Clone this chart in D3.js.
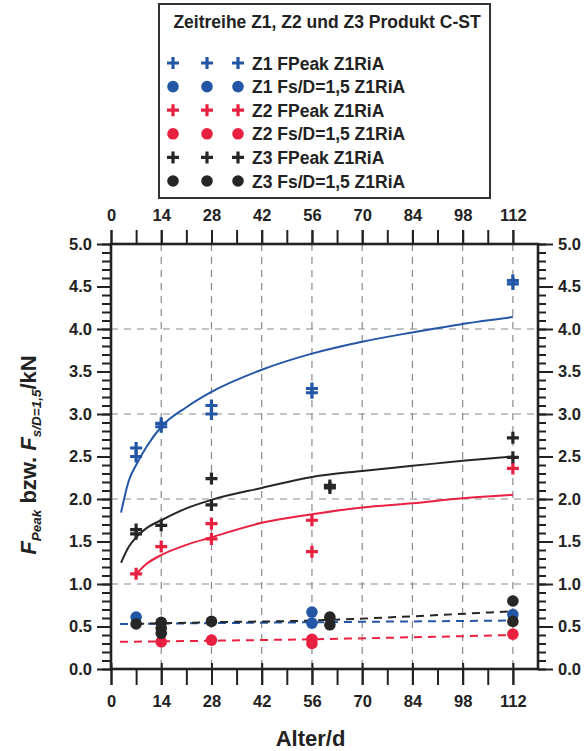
<!DOCTYPE html>
<html>
<head>
<meta charset="utf-8">
<script src="https://cdn.jsdelivr.net/npm/d3@7"></script>
<style>
	body { margin: 0; background: #fff; }
	text { font-family: "Liberation Sans", Arial, sans-serif; font-weight: bold; fill: #222; }
</style>
</head>
<body>
<svg id="chart" width="587" height="751"></svg>
<script>
var margin = {top: 244, right: 49, bottom: 82, left: 111};

var xTicks = [0, 14, 28, 42, 56, 70, 84, 98, 112];
var yTicks = [0, 0.5, 1, 1.5, 2, 2.5, 3, 3.5, 4, 4.5, 5];

// measured points
var z1PeakDays = [7, 7, 14, 14, 28, 28, 56, 56, 112, 112];
var z1Peak = [2.60, 2.50, 2.89, 2.85, 3.10, 3.00, 3.30, 3.25, 4.57, 4.53];
var z1FsDays = [7, 56, 56, 112];
var z1Fs = [0.61, 0.67, 0.54, 0.64];
var z2PeakDays = [7, 14, 28, 28, 56, 56, 112];
var z2Peak = [1.12, 1.44, 1.71, 1.53, 1.75, 1.38, 2.36];
var z2FsDays = [14, 28, 56, 56, 112];
var z2Fs = [0.32, 0.34, 0.35, 0.30, 0.41];
var z3PeakDays = [7, 7, 14, 28, 28, 61, 61, 112, 112];
var z3Peak = [1.64, 1.59, 1.69, 2.24, 1.93, 2.16, 2.13, 2.72, 2.49];
var z3FsDays = [7, 14, 14, 14, 28, 61, 61, 112, 112];
var z3Fs = [0.53, 0.55, 0.48, 0.42, 0.56, 0.61, 0.52, 0.80, 0.56];

// trend lines
var z1FitDays = [2.8, 5, 7, 10, 14, 21, 28, 42, 56, 70, 84, 98, 112];
var z1Fit = [1.84, 2.22, 2.40, 2.62, 2.85, 3.08, 3.26, 3.52, 3.71, 3.85, 3.96, 4.06, 4.14];
var z2FitDays = [6.7, 10, 14, 21, 28, 42, 56, 70, 84, 98, 112];
var z2Fit = [1.10, 1.24, 1.34, 1.46, 1.55, 1.72, 1.82, 1.90, 1.95, 2.01, 2.05];
var z3FitDays = [2.8, 5, 7, 10, 14, 21, 28, 42, 56, 70, 84, 98, 112];
var z3Fit = [1.25, 1.44, 1.55, 1.66, 1.75, 1.89, 1.99, 2.13, 2.26, 2.33, 2.39, 2.45, 2.50];
var z1FsFitDays = [2.5, 56, 112];
var z1FsFit = [0.53, 0.55, 0.57];
var z2FsFitDays = [2.5, 56, 112];
var z2FsFit = [0.32, 0.35, 0.40];
var z3FsFitDays = [7, 28, 56, 84, 112];
var z3FsFit = [0.53, 0.55, 0.57, 0.62, 0.68];

var blue = "#2456a6", red = "#ea2040", black = "#262626";

var legendTitle = "Zeitreihe Z1, Z2 und Z3 Produkt C-ST";
var legendItems = [
	{label: "Z1 FPeak Z1RiA", color: blue, shape: "cross"},
	{label: "Z1 Fs/D=1,5 Z1RiA", color: blue, shape: "dot"},
	{label: "Z2 FPeak Z1RiA", color: red, shape: "cross"},
	{label: "Z2 Fs/D=1,5 Z1RiA", color: red, shape: "dot"},
	{label: "Z3 FPeak Z1RiA", color: black, shape: "cross"},
	{label: "Z3 Fs/D=1,5 Z1RiA", color: black, shape: "dot"}
];

function zip(a, b){
	return a.map(function(d, i){ return [d, b[i]]; });
}

var svg = d3.select("#chart");
var width = +svg.attr("width") - margin.left - margin.right;
var height = +svg.attr("height") - margin.top - margin.bottom;
var g = svg.append("g").attr("transform", "translate(" + margin.left + "," + margin.top + ")");

var x = d3.scaleLinear().domain([0, 119]).range([0, width]);
var y = d3.scaleLinear().domain([0, 5]).range([height, 0]);

// grid
var grid = g.append("g").attr("stroke", "#8a8a8a").attr("stroke-width", 1.2).attr("stroke-dasharray", "7,6");
grid.selectAll(".vg").data(xTicks.slice(1)).enter().append("line")
	.attr("x1", function(d){ return x(d); }).attr("x2", function(d){ return x(d); })
	.attr("y1", 0).attr("y2", height);
grid.selectAll(".hg").data([1, 2, 3, 4]).enter().append("line")
	.attr("x1", 0).attr("x2", width)
	.attr("y1", function(d){ return y(d); }).attr("y2", function(d){ return y(d); });

// axes
var minorX = d3.range(0, 119, 7);
var minorY = d3.range(0, 51).map(function(d){ return d / 10; });

g.append("g").attr("transform", "translate(0," + height + ")")
	.call(d3.axisBottom(x).tickValues(minorX).tickSize(16).tickFormat(""));
var bottomMajor = g.append("g").attr("transform", "translate(0," + height + ")")
	.call(d3.axisBottom(x).tickValues(xTicks).tickSize(16).tickPadding(10).tickFormat(d3.format("d")));
bottomMajor.selectAll(".tick line").attr("y1", -6);

g.append("g")
	.call(d3.axisTop(x).tickValues(minorX).tickSize(14).tickFormat(""));
g.append("g")
	.call(d3.axisTop(x).tickValues(xTicks).tickSize(14).tickPadding(9).tickFormat(d3.format("d")));

g.append("g").call(d3.axisLeft(y).tickValues(minorY).tickSize(9).tickFormat(""));
g.append("g").call(d3.axisLeft(y).tickValues(yTicks).tickSize(14).tickPadding(5).tickFormat(d3.format(".1f")));
g.append("g").attr("transform", "translate(" + width + ",0)")
	.call(d3.axisRight(y).tickValues(minorY).tickSize(8).tickFormat(""));
g.append("g").attr("transform", "translate(" + width + ",0)")
	.call(d3.axisRight(y).tickValues(yTicks).tickSize(15).tickPadding(5).tickFormat(d3.format(".1f")));

g.selectAll(".domain").remove();
g.selectAll(".tick line").attr("stroke", "#222").attr("stroke-width", 2);
g.selectAll(".tick text").attr("font-size", 16.5).attr("fill", "#222")
	.style("font-family", "'Liberation Sans', Arial, sans-serif").style("font-weight", "bold");

g.append("rect").attr("width", width).attr("height", height)
	.attr("fill", "none").attr("stroke", "#222").attr("stroke-width", 2.6);

// trend lines
var line = d3.line()
	.x(function(d){ return x(d[0]); })
	.y(function(d){ return y(d[1]); })
	.curve(d3.curveMonotoneX);

var fits = [
	{data: zip(z1FitDays, z1Fit), color: blue, dash: null},
	{data: zip(z2FitDays, z2Fit), color: red, dash: null},
	{data: zip(z3FitDays, z3Fit), color: black, dash: null},
	{data: zip(z1FsFitDays, z1FsFit), color: blue, dash: "8,6"},
	{data: zip(z2FsFitDays, z2FsFit), color: red, dash: "8,6"},
	{data: zip(z3FsFitDays, z3FsFit), color: black, dash: "8,6"}
];
g.selectAll(".fit").data(fits).enter().append("path")
	.attr("class", "fit")
	.attr("fill", "none")
	.attr("stroke", function(d){ return d.color; })
	.attr("stroke-width", 2)
	.attr("stroke-dasharray", function(d){ return d.dash; })
	.attr("d", function(d){ return line(d.data); });

// markers
var crossPath = "M-6,0H6M0,-6V6";

function drawCrosses(days, vals, color){
	g.append("g").selectAll("path").data(zip(days, vals)).enter().append("path")
		.attr("d", crossPath)
		.attr("transform", function(d){ return "translate(" + x(d[0]) + "," + y(d[1]) + ")"; })
		.attr("stroke", color).attr("stroke-width", 3.2).attr("fill", "none");
}
function drawDots(days, vals, color){
	g.append("g").selectAll("circle").data(zip(days, vals)).enter().append("circle")
		.attr("cx", function(d){ return x(d[0]); })
		.attr("cy", function(d){ return y(d[1]); })
		.attr("r", 5.8)
		.attr("fill", color);
}

drawDots(z2FsDays, z2Fs, red);
drawDots(z1FsDays, z1Fs, blue);
drawDots(z3FsDays, z3Fs, black);
drawCrosses(z1PeakDays, z1Peak, blue);
drawCrosses(z2PeakDays, z2Peak, red);
drawCrosses(z3PeakDays, z3Peak, black);

// axis titles
svg.append("text")
	.attr("x", margin.left + width / 2 - 14).attr("y", 746)
	.attr("text-anchor", "middle").attr("font-size", 22)
	.text("Alter/d");

var yTitle = svg.append("text")
	.attr("transform", "translate(36," + 455 + ") rotate(-90)")
	.attr("text-anchor", "middle").attr("font-size", 22);
yTitle.append("tspan").style("font-style", "italic").text("F");
yTitle.append("tspan").style("font-style", "italic").attr("font-size", 13.5).attr("dy", 5).text("Peak");
yTitle.append("tspan").attr("dy", -5).text(" bzw. ");
yTitle.append("tspan").style("font-style", "italic").text("F");
yTitle.append("tspan").style("font-style", "italic").attr("font-size", 13.5).attr("dy", 5).text("s/D=1,5");
yTitle.append("tspan").attr("dy", -5).text("/kN");

// legend
var legend = svg.append("g").attr("transform", "translate(159,4)");
legend.append("rect").attr("width", 331).attr("height", 194)
	.attr("fill", "#fff").attr("stroke", "#333").attr("stroke-width", 2);
legend.append("text").attr("x", 168).attr("y", 24)
	.attr("text-anchor", "middle").attr("font-size", 17.5).text(legendTitle);

var rows = legend.selectAll(".row").data(legendItems).enter().append("g")
	.attr("transform", function(d, i){ return "translate(0," + (59 + i * 23.6) + ")"; });
[14, 48, 79].forEach(function(mx){
	rows.each(function(d){
		var r = d3.select(this);
		if(d.shape == "cross"){
			r.append("path").attr("d", crossPath).attr("transform", "translate(" + mx + ",0)")
				.attr("stroke", d.color).attr("stroke-width", 3.2).attr("fill", "none");
		}
		else{
			r.append("circle").attr("cx", mx).attr("cy", 0).attr("r", 5.8).attr("fill", d.color);
		}
	});
});
rows.append("text").attr("x", 93).attr("y", 6.5).attr("font-size", 17.5)
	.text(function(d){ return d.label; });
</script>
</body>
</html>
